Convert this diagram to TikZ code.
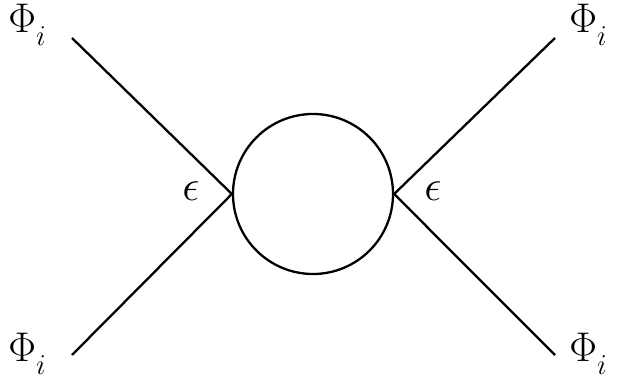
\documentclass[tikz,border=0pt]{standalone}
\newcommand{\phisub}{$\Phi_{\lower3pt\hbox{$\scriptstyle i$}}$}
\begin{document}
\begin{tikzpicture}[x=1pt,y=-1pt,
  leg/.style={line width=2.3pt},
  lab/.style={inner sep=0pt,font=\huge,scale=2.0},
  eps/.style={inner sep=0pt,font=\huge,scale=2.1}]
\useasboundingbox (0,0) rectangle (619,387);
\node[circle,draw,line width=2.3pt,minimum size=160pt,inner sep=0pt] (loop) at (313,194) {};
\coordinate (tl) at (72,38);
\coordinate (bl) at (72,355);
\coordinate (tr) at (555,38);
\coordinate (br) at (555,355);
\draw[leg] (tl) -- (loop.west);
\draw[leg] (bl) -- (loop.west);
\draw[leg] (tr) -- (loop.east);
\draw[leg] (br) -- (loop.east);
\node[lab,anchor=base west] (ptl) at (8,33) {\phisub};
\node[lab,anchor=base west] (ptr) at (569,33) {\phisub};
\node[lab,anchor=base west] (pbl) at (8,362) {\phisub};
\node[lab,anchor=base west] (pbr) at (569,362) {\phisub};
\node[eps] (el) at (191,191) {$\epsilon$};
\node[eps] (er) at (433,191) {$\epsilon$};
\end{tikzpicture}
\end{document}
